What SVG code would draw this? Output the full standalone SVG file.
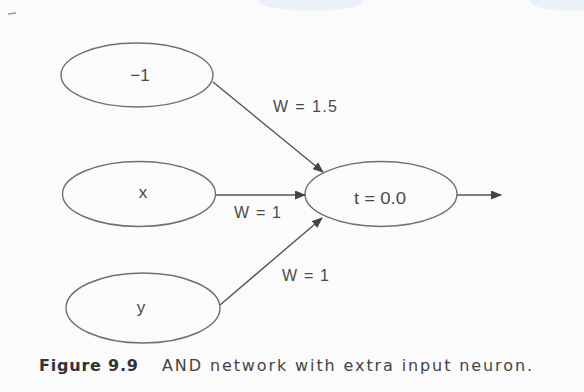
<svg xmlns="http://www.w3.org/2000/svg" width="584" height="392" viewBox="0 0 584 392">
<style>
.node ellipse{fill:none;stroke:#707070;stroke-width:1.4}
.nl{font-family:"Liberation Sans",Arial,sans-serif;font-size:17px;fill:#4a4a4a}
.lbl{font-family:"Liberation Sans",Arial,sans-serif;font-size:16px;fill:#4a4a4a}
.edge{stroke:#555;stroke-width:1.4;fill:none;marker-end:url(#ah)}
.cap{font-family:"DejaVu Sans",Verdana,sans-serif;font-size:16px;fill:#444}
</style>
<defs>
<marker id="ah" markerWidth="11" markerHeight="9" refX="10" refY="4.5" orient="auto" markerUnits="userSpaceOnUse">
<path d="M0,0 L11,4.5 L0,9 Z" fill="#444"/>
</marker>
</defs>
<rect width="584" height="392" fill="#fbfbfb"/>
<ellipse cx="311" cy="1" rx="52" ry="10" fill="#eaf1f9"/>
<ellipse cx="570" cy="1" rx="40" ry="10" fill="#eaf1f9"/>
<line x1="8" y1="14" x2="16" y2="13" stroke="#999" stroke-width="1.5"/>
<g id="n_minus1" class="node"><ellipse cx="137" cy="75" rx="76" ry="32"/><text class="nl" x="140" y="81" text-anchor="middle">−1</text></g>
<g id="n_x" class="node"><ellipse cx="139" cy="194" rx="76.5" ry="32.5"/><text class="nl" x="143" y="198" text-anchor="middle">x</text></g>
<g id="n_y" class="node"><ellipse cx="143" cy="308" rx="77" ry="35"/><text class="nl" x="141" y="313" text-anchor="middle">y</text></g>
<g id="n_t" class="node"><ellipse cx="381" cy="194" rx="76" ry="32.5"/><text class="nl" x="354" y="204" textLength="52" lengthAdjust="spacingAndGlyphs">t = 0.0</text></g>
<g id="connectors">
<line class="edge" x1="213" y1="82" x2="323" y2="172"/>
<line class="edge" x1="216" y1="195" x2="305" y2="195"/>
<line class="edge" x1="220" y1="305" x2="322" y2="218"/>
<line class="edge" x1="457" y1="195" x2="501" y2="195"/>
<text class="lbl" x="273" y="112" textLength="64" lengthAdjust="spacing">W = 1.5</text>
<text class="lbl" x="234" y="218" textLength="47" lengthAdjust="spacing">W = 1</text>
<text class="lbl" x="282" y="281" textLength="47" lengthAdjust="spacing">W = 1</text>
</g>
<text class="cap" y="371"><tspan x="39" font-weight="bold" fill="#333" textLength="99" lengthAdjust="spacing">Figure 9.9</tspan><tspan x="162" textLength="370" lengthAdjust="spacing">AND network with extra input neuron.</tspan></text>
</svg>
